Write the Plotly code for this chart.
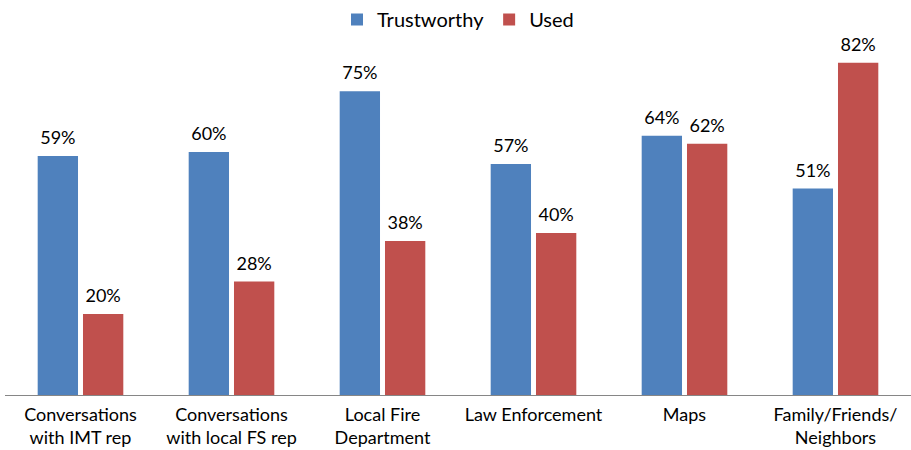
import plotly.graph_objects as go

categories = ["Conversations<br>with IMT rep", "Conversations<br>with local FS rep",
              "Local Fire<br>Department", "Law Enforcement", "Maps",
              "Family/Friends/<br>Neighbors"]
trustworthy = [59, 60, 75, 57, 64, 51]
used = [20, 28, 38, 40, 62, 82]

font_family = "Lato, 'Open Sans', sans-serif"

def labels(vals):
    return [f"<span style='font-size:18px'>{v}%</span><br> " for v in vals]

fig = go.Figure()
fig.add_trace(go.Bar(name="Trustworthy", x=categories, y=trustworthy,
                     marker=dict(color="#4F81BD", line=dict(width=0)),
                     text=labels(trustworthy), textposition="outside",
                     textfont=dict(size=6, color="#000000"), cliponaxis=False))
fig.add_trace(go.Bar(name="Used", x=categories, y=used,
                     marker=dict(color="#C0504D", line=dict(width=0)),
                     text=labels(used), textposition="outside",
                     textfont=dict(size=6, color="#000000"), cliponaxis=False))

fig.update_layout(
    width=911, height=450,
    margin=dict(l=5, r=0, t=45, b=55),
    barmode="group", bargap=0.40, bargroupgap=0.11,
    plot_bgcolor="white", paper_bgcolor="white",
    font=dict(family=font_family, size=18, color="#000000"),
    legend=dict(orientation="h", x=0.5, xanchor="center", y=1.0, yref="container",
                yanchor="top", font=dict(size=20), itemwidth=30, tracegroupgap=0),
    xaxis=dict(showline=True, linecolor="#868686", linewidth=1, ticks="",
               tickfont=dict(size=18), showgrid=False, ticklabelstandoff=3),
    yaxis=dict(range=[0, 86.4], visible=False, showgrid=False),
)

fig.write_html("out.html")
